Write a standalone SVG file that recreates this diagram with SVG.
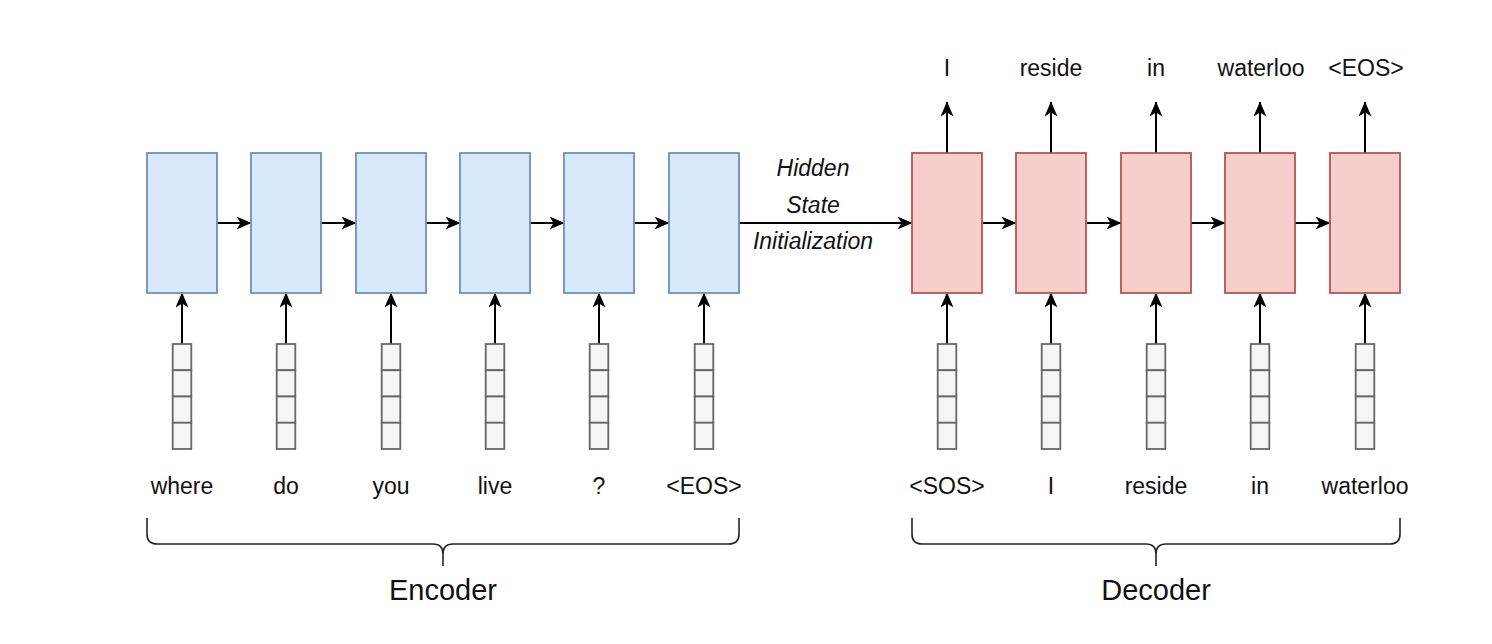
<svg xmlns="http://www.w3.org/2000/svg" width="1492" height="644" viewBox="0 0 1492 644">
<style>
.enc{fill:#dae8fc;stroke:#6c8ebf;stroke-width:1.8}
.dec{fill:#f8cecc;stroke:#b85450;stroke-width:1.8}
.vec{fill:#f5f5f5;stroke:#666666;stroke-width:1.8}
.lbl{font-family:"Liberation Sans",Arial,sans-serif;font-size:23px;fill:#111;text-anchor:middle}
.big{font-family:"Liberation Sans",Arial,sans-serif;font-size:29px;fill:#111;text-anchor:middle}
.it{font-family:"Liberation Sans",Arial,sans-serif;font-size:23px;font-style:italic;fill:#111;text-anchor:middle}
.arr{stroke:#000;stroke-width:2;fill:none;marker-end:url(#ah)}
.brace{stroke:#222;stroke-width:1.6;fill:none}
</style>
<defs>
<marker id="ah" viewBox="0 0 15 13" refX="14.5" refY="6.5" markerWidth="15" markerHeight="13" orient="auto" markerUnits="userSpaceOnUse">
<path d="M0,0 L15,6.5 L0,13 L4,6.5 z" fill="#000"/>
</marker>
<g id="vecshape">
<rect class="vec" x="-9.3" y="344" width="18.6" height="26.25"/>
<rect class="vec" x="-9.3" y="370.25" width="18.6" height="26.25"/>
<rect class="vec" x="-9.3" y="396.5" width="18.6" height="26.25"/>
<rect class="vec" x="-9.3" y="422.75" width="18.6" height="26.25"/>
</g>
</defs>
<rect width="1492" height="644" fill="#fff"/>

<g id="connectors">
<line class="arr" x1="217" y1="223" x2="251" y2="223"/>
<line class="arr" x1="321" y1="223" x2="356" y2="223"/>
<line class="arr" x1="426" y1="223" x2="460" y2="223"/>
<line class="arr" x1="530" y1="223" x2="564" y2="223"/>
<line class="arr" x1="634" y1="223" x2="669" y2="223"/>
<line class="arr" x1="739" y1="223" x2="912" y2="223"/>
<line class="arr" x1="982" y1="223" x2="1016" y2="223"/>
<line class="arr" x1="1086" y1="223" x2="1121" y2="223"/>
<line class="arr" x1="1191" y1="223" x2="1225" y2="223"/>
<line class="arr" x1="1295" y1="223" x2="1330" y2="223"/>
<line class="arr" x1="182" y1="344" x2="182" y2="293"/>
<line class="arr" x1="286" y1="344" x2="286" y2="293"/>
<line class="arr" x1="391" y1="344" x2="391" y2="293"/>
<line class="arr" x1="495" y1="344" x2="495" y2="293"/>
<line class="arr" x1="599" y1="344" x2="599" y2="293"/>
<line class="arr" x1="704" y1="344" x2="704" y2="293"/>
<line class="arr" x1="947" y1="344" x2="947" y2="293"/>
<line class="arr" x1="1051" y1="344" x2="1051" y2="293"/>
<line class="arr" x1="1156" y1="344" x2="1156" y2="293"/>
<line class="arr" x1="1260" y1="344" x2="1260" y2="293"/>
<line class="arr" x1="1365" y1="344" x2="1365" y2="293"/>
<line class="arr" x1="947" y1="153" x2="947" y2="102"/>
<line class="arr" x1="1051" y1="153" x2="1051" y2="102"/>
<line class="arr" x1="1156" y1="153" x2="1156" y2="102"/>
<line class="arr" x1="1260" y1="153" x2="1260" y2="102"/>
<line class="arr" x1="1365" y1="153" x2="1365" y2="102"/>
</g>

<g id="enc1"><rect class="enc" x="147" y="153" width="70" height="140"/><use href="#vecshape" x="182"/><text class="lbl" x="182" y="494">where</text></g>
<g id="enc2"><rect class="enc" x="251" y="153" width="70" height="140"/><use href="#vecshape" x="286"/><text class="lbl" x="286" y="494">do</text></g>
<g id="enc3"><rect class="enc" x="356" y="153" width="70" height="140"/><use href="#vecshape" x="391"/><text class="lbl" x="391" y="494">you</text></g>
<g id="enc4"><rect class="enc" x="460" y="153" width="70" height="140"/><use href="#vecshape" x="495"/><text class="lbl" x="495" y="494">live</text></g>
<g id="enc5"><rect class="enc" x="564" y="153" width="70" height="140"/><use href="#vecshape" x="599"/><text class="lbl" x="599" y="494">?</text></g>
<g id="enc6"><rect class="enc" x="669" y="153" width="70" height="140"/><use href="#vecshape" x="704"/><text class="lbl" x="704" y="494">&lt;EOS&gt;</text></g>

<g id="dec1"><rect class="dec" x="912" y="153" width="70" height="140"/><use href="#vecshape" x="947"/><text class="lbl" x="947" y="494">&lt;SOS&gt;</text><text class="lbl" x="947" y="76">I</text></g>
<g id="dec2"><rect class="dec" x="1016" y="153" width="70" height="140"/><use href="#vecshape" x="1051"/><text class="lbl" x="1051" y="494">I</text><text class="lbl" x="1051" y="76">reside</text></g>
<g id="dec3"><rect class="dec" x="1121" y="153" width="70" height="140"/><use href="#vecshape" x="1156"/><text class="lbl" x="1156" y="494">reside</text><text class="lbl" x="1156" y="76">in</text></g>
<g id="dec4"><rect class="dec" x="1225" y="153" width="70" height="140"/><use href="#vecshape" x="1260"/><text class="lbl" x="1260" y="494">in</text><text class="lbl" x="1261" y="76">waterloo</text></g>
<g id="dec5"><rect class="dec" x="1330" y="153" width="70" height="140"/><use href="#vecshape" x="1365"/><text class="lbl" x="1365" y="494">waterloo</text><text class="lbl" x="1366" y="76">&lt;EOS&gt;</text></g>

<g id="hidden-label">
<text class="it" x="813" y="176">Hidden</text>
<text class="it" x="813" y="213">State</text>
<text class="it" x="813" y="249">Initialization</text>
</g>

<g id="encoder-brace">
<path class="brace" d="M147,518 L147,534 Q147,544 157,544 L433,544 Q443,544 443,554 L443,566 M443,554 Q443,544 453,544 L729,544 Q739,544 739,534 L739,518"/>
<text class="big" x="443" y="600">Encoder</text>
</g>
<g id="decoder-brace">
<path class="brace" d="M912,518 L912,534 Q912,544 922,544 L1146,544 Q1156,544 1156,554 L1156,566 M1156,554 Q1156,544 1166,544 L1390,544 Q1400,544 1400,534 L1400,518"/>
<text class="big" x="1156" y="600">Decoder</text>
</g>
</svg>
